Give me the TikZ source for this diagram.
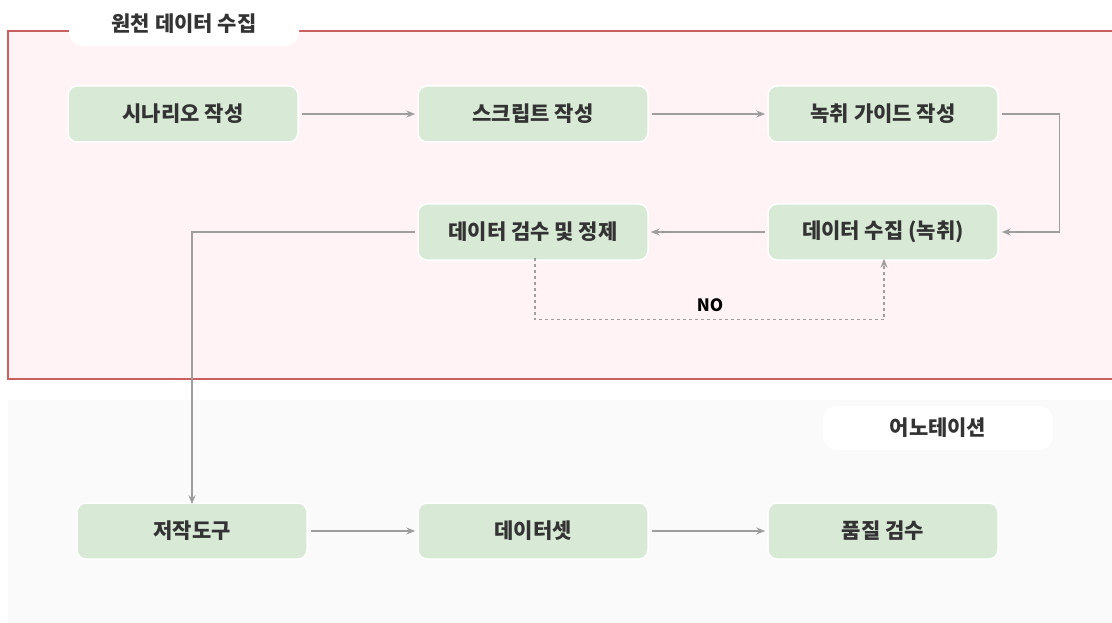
\documentclass[tikz,border=0pt]{standalone}
\usepackage{fontspec}
\setmainfont{Noto Sans CJK KR}
\usetikzlibrary{arrows.meta}
\definecolor{grpred}{HTML}{C9605F}
\definecolor{grpfill}{HTML}{FFF3F6}
\definecolor{botfill}{HTML}{FAFAFA}
\definecolor{boxfill}{HTML}{D8EAD6}
\definecolor{txt}{HTML}{333333}
\definecolor{arr}{HTML}{9E9E9E}
\tikzset{
  stepbox/.style={draw=white, line width=1.5pt, fill=boxfill, rounded corners=9pt, minimum width=230pt, minimum height=56pt, inner sep=0pt, font=\fontsize{21}{24}\selectfont\bfseries, text=txt},
  grplabel/.style={fill=white, rounded corners=14pt, minimum width=230pt, minimum height=44pt, inner sep=0pt, font=\fontsize{21}{24}\selectfont\bfseries, text=txt},
  flow/.style={draw=arr, line width=1.2pt, -{Stealth[length=9pt,width=7pt]}},
  noflow/.style={draw=arr, line width=1.2pt, dashed, dash pattern=on 3pt off 3pt, -{Stealth[length=9pt,width=7pt]}}
}
\begin{document}
\begin{tikzpicture}[x=1pt,y=-1pt]
\useasboundingbox (0,0) rectangle (1112,623);
\fill[white] (0,0) rectangle (1112,623);
% bottom group
\fill[botfill] (8,400) rectangle (1112,623);
\node[grplabel, anchor=center] (anlabel) at (938,428) {어노테이션};
% top group
\draw[grpred, fill=grpfill, line width=2.2pt] (1114,31) -- (8,31) -- (8,379) -- (1114,379);
\node[grplabel] (srclabel) at (184,24) {원천 데이터 수집};
% nodes
\node[stepbox] (scen) at (183,114) {시나리오 작성};
\node[stepbox] (scr) at (533,114) {스크립트 작성};
\node[stepbox] (guide) at (883,114) {녹취 가이드 작성};
\node[stepbox] (coll) at (883,232) {데이터 수집 (녹취)};
\node[stepbox] (insp) at (533,232) {데이터 검수 및 정제};
\node[stepbox] (tool) at (192,531) {저작도구};
\node[stepbox] (ds) at (533,531) {데이터셋};
\node[stepbox] (qa) at (883,531) {품질 검수};
% connectors
\draw[flow] ([xshift=3pt]scen.east) -- ([xshift=-2pt]scr.west);
\draw[flow] ([xshift=3pt]scr.east) -- ([xshift=-2pt]guide.west);
\draw[flow] ([xshift=3pt]guide.east) -- ++(58,0) |- ([xshift=3pt]coll.east);
\draw[flow] ([xshift=-2pt]coll.west) -- ([xshift=2pt]insp.west -| insp.east);
\draw[flow] ([xshift=-2pt]insp.west) -| ([yshift=-2pt]tool.north);
\draw[noflow] ([xshift=2pt,yshift=3pt]insp.south) -- ++(0,62) coordinate (nocorner) -| ([xshift=1pt,yshift=2pt]coll.south);
\node[font=\fontsize{17}{19}\selectfont\bfseries, text=black] (nolabel) at (710,305) {NO};
\draw[flow] ([xshift=3pt]tool.east) -- ([xshift=-2pt]ds.west);
\draw[flow] ([xshift=3pt]ds.east) -- ([xshift=-2pt]qa.west);
\end{tikzpicture}
\end{document}
